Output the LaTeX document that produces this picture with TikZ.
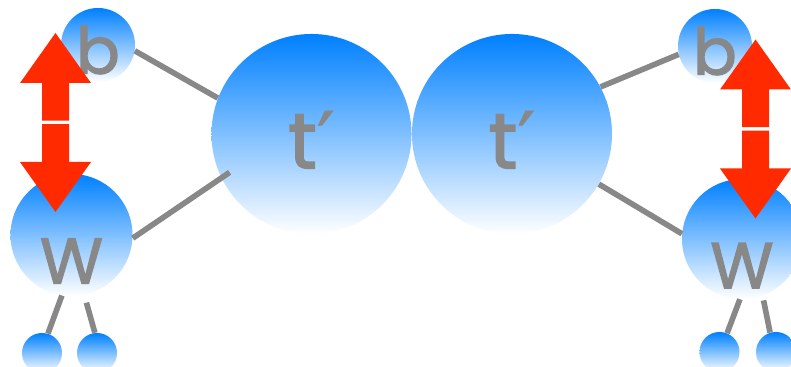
\documentclass[tikz,border=0pt]{standalone}
\usepackage{fontspec}
\setmainfont{Poppins}
\newfontfamily\ballfont{Poppins}[FakeBold=2]
\newfontfamily\primefont{DejaVu Sans}[FakeBold=1]

\definecolor{ballblue}{RGB}{0,128,255}
\definecolor{stickgray}{RGB}{136,136,136}
\definecolor{flipred}{RGB}{255,42,0}

\begin{document}
\begin{tikzpicture}[x=0.025cm, y=-0.025cm]
    % Style definitions (sizes in px of the 791x367 grid)
    \tikzset{
        % blue ball, fading to white at the bottom
        ball/.style={circle, inner sep=0pt, minimum size=#1*0.05cm,
            top color=ballblue, bottom color=white},
        % grey letter inside a ball
        ball text/.style={font=\ballfont\fontsize{46}{46}\selectfont, text=stickgray},
        % grey sticks between balls
        stick/.style={draw=stickgray, line width=4pt},
        % red up/down flip arrow
        pics/flip/.style={code={%
            \fill[flipred] (0,-89.5) -- (35.5,-39.5) -- (13.5,-39.5) -- (13.5,-1.75)
                -- (-13.5,-1.75) -- (-13.5,-39.5) -- (-35.5,-39.5) -- cycle;
            \fill[flipred] (0,89.5) -- (35.5,39.5) -- (13.5,39.5) -- (13.5,1.75)
                -- (-13.5,1.75) -- (-13.5,39.5) -- (-35.5,39.5) -- cycle;
        }}
    }
    \useasboundingbox (0,0) rectangle (791,367);
    \clip (0,0) rectangle (791,367);

    % Left side
    \node[ball=37, label={[ball text, yshift=-3.5pt]center:b}] (b1) at (98,45) {};
    \node[ball=61, label={[ball text, yshift=-18.5pt]center:W}] (w1) at (71.5,235) {};
    \node[ball=20] (f1) at (42,353) {};
    \node[ball=20] (f2) at (97,353) {};

    % Middle
    \node[ball=100, label={[ball text, font=\ballfont\fontsize{56}{56}\selectfont, yshift=-4pt]center:t{\primefont ′}}] (t1) at (311.5,134) {};
    \node[ball=100, label={[ball text, font=\ballfont\fontsize{56}{56}\selectfont, yshift=-4pt]center:t{\primefont ′}}] (t2) at (512,134) {};

    % Right side
    \node[ball=37, label={[ball text, yshift=-3.5pt]center:b}] (b2) at (715,46) {};
    \node[ball=60, label={[ball text, yshift=-19pt]center:W}] (w2) at (742,239) {};
    \node[ball=20] (f3) at (719.5,352) {};
    \node[ball=20] (f4) at (776,352) {};

    % Sticks
    \draw[stick] (b1.-9) -- (t1.159);
    \draw[stick, shorten >=-0.25cm] (w1.-3) -- (t1.206);
    \draw[stick] (t2.28) -- (b2.193);
    \draw[stick] (t2.-30) -- (w2.175);

    \draw[stick] (w1.261) -- (f1.73);
    \draw[stick, shorten <=0.2cm] (w1.-78) -- (f2.96);
    \draw[stick] (w2.268) -- (f3.68);
    \draw[stick, shorten <=0.12cm] (w2.-70) -- (f4.107);

    % Flip arrows
    \pic at (55.5,122.5) {flip};
    \pic at (755.5,129) {flip};
\end{tikzpicture}
\end{document}
